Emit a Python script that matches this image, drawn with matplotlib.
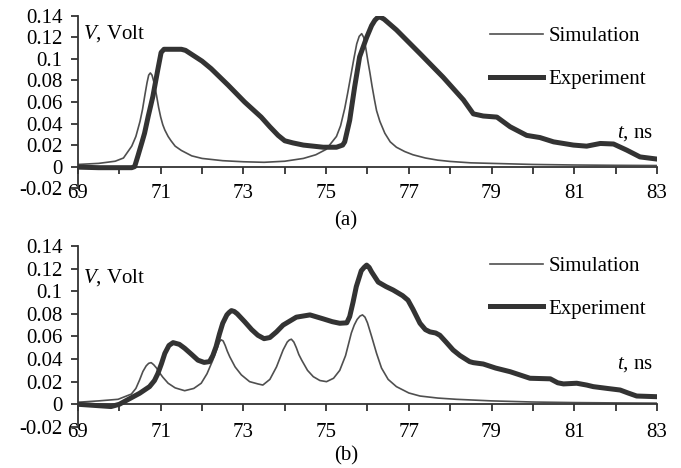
import matplotlib
matplotlib.use("Agg")
import matplotlib.pyplot as plt

plt.rcParams['font.family'] = ['Liberation Serif', 'DejaVu Serif']
plt.rcParams['mathtext.fontset'] = 'custom'
plt.rcParams['mathtext.rm'] = 'Liberation Serif'
plt.rcParams['mathtext.it'] = 'Liberation Serif:italic'
plt.rcParams['font.size'] = 15

# panel (a)
t_sim_a = [69.0, 69.5, 69.9, 70.1, 70.3, 70.4, 70.5, 70.56, 70.62, 70.67, 70.71, 70.75,
           70.79, 70.84, 70.9, 70.95, 71.0, 71.05, 71.1, 71.18, 71.25, 71.35, 71.5, 71.75,
           72.0, 72.5, 73.0, 73.5, 74.0, 74.45, 74.75, 75.0, 75.25, 75.35, 75.45, 75.52,
           75.6, 75.67, 75.74, 75.8, 75.86, 75.91, 75.96, 76.01, 76.06, 76.11, 76.17, 76.22,
           76.3, 76.42, 76.55, 76.7, 76.9, 77.1, 77.4, 77.7, 78.0, 78.5, 79.0, 80.0,
           81.0, 82.0, 83.0]
v_sim_a = [0.002, 0.003, 0.005, 0.008, 0.019, 0.028, 0.042, 0.053, 0.067, 0.078, 0.085, 0.087,
           0.085, 0.078, 0.066, 0.055, 0.046, 0.039, 0.034, 0.028, 0.024, 0.019, 0.015, 0.010,
           0.0076, 0.0055, 0.0045, 0.004, 0.005, 0.0076, 0.011, 0.016, 0.028, 0.038, 0.054, 0.068,
           0.085, 0.100, 0.114, 0.121, 0.1235, 0.120, 0.110, 0.098, 0.087, 0.075, 0.062, 0.052,
           0.042, 0.031, 0.023, 0.018, 0.014, 0.011, 0.008, 0.006, 0.0048, 0.0035, 0.003, 0.002,
           0.0015, 0.0012, 0.001]
t_exp_a = [69.0, 69.5, 70.0, 70.3, 70.37, 70.45, 70.55, 70.61, 70.7, 70.81, 70.93, 71.01,
           71.08, 71.3, 71.5, 71.6, 72.0, 72.22, 72.63, 73.03, 73.43, 73.64, 73.84, 74.0,
           74.2, 74.45, 74.93, 75.25, 75.4, 75.45, 75.57, 75.69, 75.81, 75.98, 76.1, 76.18,
           76.26, 76.33, 76.4, 76.7, 77.27, 77.83, 78.32, 78.56, 78.8, 79.13, 79.45, 79.85,
           80.17, 80.5, 80.98, 81.3, 81.63, 81.95, 82.27, 82.59, 83.0]
v_exp_a = [-0.0005, -0.001, -0.001, -0.001, 0.0, 0.01, 0.023, 0.031, 0.047, 0.065, 0.09, 0.106,
           0.109, 0.109, 0.109, 0.108, 0.098, 0.091, 0.0757, 0.060, 0.046, 0.037, 0.029, 0.024,
           0.022, 0.020, 0.018, 0.018, 0.020, 0.023, 0.043, 0.074, 0.102, 0.12, 0.131, 0.136,
           0.139, 0.1385, 0.137, 0.127, 0.105, 0.083, 0.062, 0.049, 0.047, 0.046, 0.037, 0.029,
           0.027, 0.023, 0.020, 0.019, 0.0215, 0.021, 0.0153, 0.009, 0.007]

# panel (b)
t_sim_b = [69.0, 69.5, 69.97, 70.15, 70.29, 70.4, 70.49, 70.57, 70.65, 70.71, 70.77, 70.83,
           70.9, 70.97, 71.05, 71.18, 71.35, 71.58, 71.8, 71.98, 72.12, 72.26, 72.37, 72.42,
           72.46, 72.51, 72.56, 72.61, 72.67, 72.8, 72.95, 73.15, 73.35, 73.47, 73.64, 73.8,
           73.96, 74.06, 74.11, 74.16, 74.22, 74.28, 74.34, 74.41, 74.55, 74.69, 74.85, 75.01,
           75.18, 75.33, 75.47, 75.61, 75.68, 75.75, 75.82, 75.88, 75.94, 76.0, 76.05, 76.1,
           76.22, 76.34, 76.5, 76.7, 77.0, 77.27, 77.7, 78.15, 79.0, 80.0, 81.0, 82.0, 83.0]
v_sim_b = [0.0018, 0.003, 0.0044, 0.007, 0.009, 0.014, 0.0215, 0.029, 0.034, 0.0362, 0.0368, 0.035,
           0.032, 0.028, 0.024, 0.0186, 0.0145, 0.012, 0.014, 0.0186, 0.027, 0.039, 0.050, 0.055,
           0.057, 0.056, 0.052, 0.047, 0.042, 0.033, 0.026, 0.020, 0.018, 0.017, 0.022, 0.033,
           0.048, 0.055, 0.0568, 0.0575, 0.055, 0.050, 0.044, 0.039, 0.030, 0.0244, 0.021, 0.020,
           0.023, 0.030, 0.043, 0.063, 0.070, 0.075, 0.078, 0.079, 0.077, 0.072, 0.066, 0.060,
           0.045, 0.032, 0.022, 0.0156, 0.010, 0.0073, 0.0055, 0.0044, 0.003, 0.002, 0.0015, 0.0012, 0.001]
t_exp_b = [69.0, 69.4, 69.8, 70.0, 70.2, 70.49, 70.73, 70.85, 70.93, 71.02, 71.1, 71.2,
           71.3, 71.45, 71.58, 71.75, 71.9, 72.05, 72.18, 72.26, 72.34, 72.42, 72.5, 72.6,
           72.65, 72.71, 72.78, 72.85, 73.03, 73.2, 73.35, 73.5, 73.64, 73.8, 73.96, 74.28,
           74.61, 74.93, 75.15, 75.33, 75.5, 75.57, 75.65, 75.73, 75.85, 75.92, 75.98, 76.04,
           76.1, 76.26, 76.45, 76.62, 76.85, 76.98, 77.1, 77.27, 77.4, 77.51, 77.65, 77.75,
           77.9, 78.07, 78.24, 78.47, 78.56, 78.8, 79.1, 79.45, 79.93, 80.42, 80.6, 80.74,
           81.06, 81.3, 81.46, 81.8, 82.11, 82.3, 82.51, 83.0]
v_exp_b = [0.0, -0.001, -0.002, 0.0, 0.004, 0.0097, 0.0156, 0.021, 0.027, 0.036, 0.045, 0.052,
           0.0545, 0.053, 0.0495, 0.044, 0.039, 0.037, 0.0377, 0.043, 0.051, 0.062, 0.0716, 0.079,
           0.081, 0.0828, 0.082, 0.080, 0.073, 0.066, 0.061, 0.058, 0.059, 0.064, 0.070, 0.077,
           0.079, 0.0755, 0.073, 0.0716, 0.072, 0.0775, 0.090, 0.104, 0.118, 0.121, 0.123, 0.121,
           0.117, 0.108, 0.104, 0.101, 0.096, 0.092, 0.084, 0.0716, 0.066, 0.064, 0.063, 0.061,
           0.055, 0.048, 0.043, 0.0377, 0.0368, 0.0356, 0.032, 0.0288, 0.023, 0.0225, 0.019, 0.018,
           0.0186, 0.017, 0.0156, 0.014, 0.0126, 0.010, 0.0073, 0.0067]

x_ticks = list(range(69, 84))
x_labels = [69, 71, 73, 75, 77, 79, 81, 83]
y_ticks = [-0.02, 0, 0.02, 0.04, 0.06, 0.08, 0.1, 0.12, 0.14]
y_labels = ['-0.02', '0', '0.02', '0.04', '0.06', '0.08', '0.1', '0.12', '0.14']


def draw_panel(ax, t_sim, v_sim, t_exp, v_exp, vlab_y, tlab_y, leg_y):
    ax.plot(t_sim, v_sim, color='#4f4f4f', lw=1.2, label='Simulation')
    ax.plot(t_exp, v_exp, color='#333333', lw=3.6, label='Experiment',
            solid_joinstyle='round')
    ax.set_xlim(69, 83)
    ax.set_ylim(-0.02, 0.14)

    ax.spines['top'].set_visible(False)
    ax.spines['right'].set_visible(False)
    ax.spines['bottom'].set_position(('data', 0))
    for s in ('left', 'bottom'):
        ax.spines[s].set_color('#333333')
        ax.spines[s].set_linewidth(1.3)

    ax.set_xticks(x_ticks)
    ax.tick_params(axis='x', direction='out', length=5, width=1.3, color='#333333',
                   labelbottom=False)
    ax.set_yticks(y_ticks)
    ax.set_yticklabels(y_labels)
    ax.tick_params(axis='y', direction='out', length=5, width=1.3, color='#333333', pad=6)

    sec = ax.secondary_xaxis(0)
    sec.set_xticks(x_labels)
    sec.tick_params(length=0, pad=-3)
    sec.spines['bottom'].set_visible(False)

    ax.text(69.12, vlab_y, r'$V$, Volt', ha='left', va='center')
    ax.text(82.91, tlab_y, r'$t$, ns', ha='right', va='center')
    ax.legend(loc='center left', bbox_to_anchor=(0.7116, leg_y), frameon=False,
              handlelength=2.55, handletextpad=0.25, labelspacing=1.1,
              borderpad=0, borderaxespad=0)


fig = plt.figure(figsize=(6.81, 4.68), dpi=100)
ax_a = fig.add_axes([0.1145, 0.598, 0.8502, 0.368])
ax_b = fig.add_axes([0.1145, 0.0878, 0.8502, 0.3868])

draw_panel(ax_a, t_sim_a, v_sim_a, t_exp_a, v_exp_a, 0.124, 0.031, 0.757)
draw_panel(ax_b, t_sim_b, v_sim_b, t_exp_b, v_exp_b, 0.112, 0.035, 0.769)

fig.text(346 / 681, 1 - 221 / 468, '(a)', ha='center', va='center')
fig.text(346 / 681, 1 - 456 / 468, '(b)', ha='center', va='center')

fig.savefig('out.png', dpi=100)
